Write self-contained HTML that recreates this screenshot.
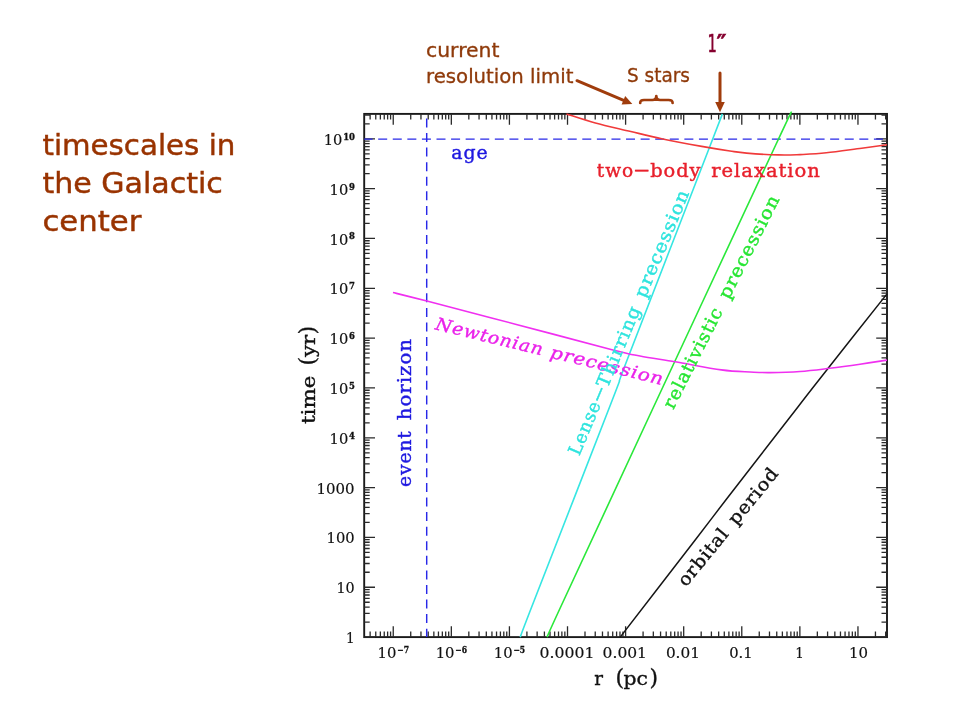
<!DOCTYPE html>
<html lang="en">
<head>
<meta charset="utf-8">
<title>timescales in the Galactic center</title>
<style>
html,body{margin:0;padding:0;background:#fff;}
body{width:960px;height:720px;overflow:hidden;position:relative;}
svg{position:absolute;left:0;top:0;display:block;}
.pl{font-family:"DejaVu Serif","Liberation Serif",serif;}
.cs{font-family:"DejaVu Sans","Liberation Sans",sans-serif;}
</style>
</head>
<body>
<svg width="960" height="720" viewBox="0 0 960 720">
<rect width="960" height="720" fill="#ffffff"/>
<g class="cs" fill="#993300" stroke="#993300" stroke-width="0.45" font-size="29px">
<text x="42.4" y="154.5" textLength="193" lengthAdjust="spacingAndGlyphs">timescales in</text>
<text x="42.4" y="193" textLength="180.5" lengthAdjust="spacingAndGlyphs">the Galactic</text>
<text x="42.4" y="231" textLength="99" lengthAdjust="spacingAndGlyphs">center</text>
</g>
<g class="cs" fill="#8f3a0a" stroke="#8f3a0a" stroke-width="0.3" font-size="19px">
<text x="426" y="57.2" textLength="73.5" lengthAdjust="spacingAndGlyphs">current</text>
<text x="426" y="83" textLength="147.5" lengthAdjust="spacingAndGlyphs">resolution limit</text>
<text x="627" y="82" textLength="63" lengthAdjust="spacingAndGlyphs">S stars</text>
</g>
<text class="cs" y="52" font-size="24.5px" fill="#85002f" stroke="#85002f" stroke-width="0.5"><tspan x="707.4" textLength="9.4" lengthAdjust="spacingAndGlyphs">1</tspan><tspan x="716.6" font-weight="bold" textLength="10" lengthAdjust="spacingAndGlyphs">″</tspan></text>
<g stroke="#a03c0c" fill="none" stroke-width="3" stroke-linecap="round">
<line x1="577" y1="80.7" x2="626" y2="101.3"/>
<line x1="720" y1="73" x2="720" y2="104"/>
</g>
<g fill="#a03c0c">
<polygon points="632.3,103.9 621.6,104.4 625.2,96"/>
<polygon points="720,112.3 715.2,102 724.8,102"/>
</g>
<path d="M640.2 103 C640.2 100.4 641.2 100 644 100 L652.4 100 C655 100 656.3 99 656.3 96 C656.3 99 657.6 100 660.2 100 L668.6 100 C671.4 100 672.6 100.4 672.6 103" fill="none" stroke="#a03c0c" stroke-width="2.7" stroke-linecap="round" stroke-linejoin="round"/>
<rect x="364.2" y="113.9" width="522.80" height="523.20" fill="none" stroke="#1a1a1a" stroke-width="1.9"/>
<path d="M370.13 637.10v-5.5M370.13 113.90v5.5M375.76 637.10v-5.5M375.76 113.90v5.5M380.36 637.10v-5.5M380.36 113.90v5.5M384.25 637.10v-5.5M384.25 113.90v5.5M387.62 637.10v-5.5M387.62 113.90v5.5M390.59 637.10v-5.5M390.59 113.90v5.5M393.24 637.10v-10.8M393.24 113.90v10.8M410.73 637.10v-5.5M410.73 113.90v5.5M420.96 637.10v-5.5M420.96 113.90v5.5M428.22 637.10v-5.5M428.22 113.90v5.5M433.85 637.10v-5.5M433.85 113.90v5.5M438.45 637.10v-5.5M438.45 113.90v5.5M442.34 637.10v-5.5M442.34 113.90v5.5M445.70 637.10v-5.5M445.70 113.90v5.5M448.68 637.10v-5.5M448.68 113.90v5.5M451.33 637.10v-10.8M451.33 113.90v10.8M468.82 637.10v-5.5M468.82 113.90v5.5M479.05 637.10v-5.5M479.05 113.90v5.5M486.31 637.10v-5.5M486.31 113.90v5.5M491.94 637.10v-5.5M491.94 113.90v5.5M496.54 637.10v-5.5M496.54 113.90v5.5M500.42 637.10v-5.5M500.42 113.90v5.5M503.79 637.10v-5.5M503.79 113.90v5.5M506.76 637.10v-5.5M506.76 113.90v5.5M509.42 637.10v-10.8M509.42 113.90v10.8M526.91 637.10v-5.5M526.91 113.90v5.5M537.14 637.10v-5.5M537.14 113.90v5.5M544.40 637.10v-5.5M544.40 113.90v5.5M550.02 637.10v-5.5M550.02 113.90v5.5M554.62 637.10v-5.5M554.62 113.90v5.5M558.51 637.10v-5.5M558.51 113.90v5.5M561.88 637.10v-5.5M561.88 113.90v5.5M564.85 637.10v-5.5M564.85 113.90v5.5M567.51 637.10v-10.8M567.51 113.90v10.8M585.00 637.10v-5.5M585.00 113.90v5.5M595.23 637.10v-5.5M595.23 113.90v5.5M602.48 637.10v-5.5M602.48 113.90v5.5M608.11 637.10v-5.5M608.11 113.90v5.5M612.71 637.10v-5.5M612.71 113.90v5.5M616.60 637.10v-5.5M616.60 113.90v5.5M619.97 637.10v-5.5M619.97 113.90v5.5M622.94 637.10v-5.5M622.94 113.90v5.5M625.60 637.10v-10.8M625.60 113.90v10.8M643.09 637.10v-5.5M643.09 113.90v5.5M653.32 637.10v-5.5M653.32 113.90v5.5M660.57 637.10v-5.5M660.57 113.90v5.5M666.20 637.10v-5.5M666.20 113.90v5.5M670.80 637.10v-5.5M670.80 113.90v5.5M674.69 637.10v-5.5M674.69 113.90v5.5M678.06 637.10v-5.5M678.06 113.90v5.5M681.03 637.10v-5.5M681.03 113.90v5.5M683.69 637.10v-10.8M683.69 113.90v10.8M701.18 637.10v-5.5M701.18 113.90v5.5M711.40 637.10v-5.5M711.40 113.90v5.5M718.66 637.10v-5.5M718.66 113.90v5.5M724.29 637.10v-5.5M724.29 113.90v5.5M728.89 637.10v-5.5M728.89 113.90v5.5M732.78 637.10v-5.5M732.78 113.90v5.5M736.15 637.10v-5.5M736.15 113.90v5.5M739.12 637.10v-5.5M739.12 113.90v5.5M741.78 637.10v-10.8M741.78 113.90v10.8M759.26 637.10v-5.5M759.26 113.90v5.5M769.49 637.10v-5.5M769.49 113.90v5.5M776.75 637.10v-5.5M776.75 113.90v5.5M782.38 637.10v-5.5M782.38 113.90v5.5M786.98 637.10v-5.5M786.98 113.90v5.5M790.87 637.10v-5.5M790.87 113.90v5.5M794.24 637.10v-5.5M794.24 113.90v5.5M797.21 637.10v-5.5M797.21 113.90v5.5M799.87 637.10v-10.8M799.87 113.90v10.8M817.35 637.10v-5.5M817.35 113.90v5.5M827.58 637.10v-5.5M827.58 113.90v5.5M834.84 637.10v-5.5M834.84 113.90v5.5M840.47 637.10v-5.5M840.47 113.90v5.5M845.07 637.10v-5.5M845.07 113.90v5.5M848.96 637.10v-5.5M848.96 113.90v5.5M852.33 637.10v-5.5M852.33 113.90v5.5M855.30 637.10v-5.5M855.30 113.90v5.5M857.96 637.10v-10.8M857.96 113.90v10.8M875.44 637.10v-5.5M875.44 113.90v5.5M885.67 637.10v-5.5M885.67 113.90v5.5M364.20 637.10h10.8M887.00 637.10h-10.8M364.20 622.10h5.5M887.00 622.10h-5.5M364.20 613.33h5.5M887.00 613.33h-5.5M364.20 607.10h5.5M887.00 607.10h-5.5M364.20 602.27h5.5M887.00 602.27h-5.5M364.20 598.33h5.5M887.00 598.33h-5.5M364.20 594.99h5.5M887.00 594.99h-5.5M364.20 592.10h5.5M887.00 592.10h-5.5M364.20 589.55h5.5M887.00 589.55h-5.5M364.20 587.27h10.8M887.00 587.27h-10.8M364.20 572.27h5.5M887.00 572.27h-5.5M364.20 563.50h5.5M887.00 563.50h-5.5M364.20 557.27h5.5M887.00 557.27h-5.5M364.20 552.44h5.5M887.00 552.44h-5.5M364.20 548.50h5.5M887.00 548.50h-5.5M364.20 545.16h5.5M887.00 545.16h-5.5M364.20 542.27h5.5M887.00 542.27h-5.5M364.20 539.72h5.5M887.00 539.72h-5.5M364.20 537.44h10.8M887.00 537.44h-10.8M364.20 522.44h5.5M887.00 522.44h-5.5M364.20 513.67h5.5M887.00 513.67h-5.5M364.20 507.44h5.5M887.00 507.44h-5.5M364.20 502.61h5.5M887.00 502.61h-5.5M364.20 498.67h5.5M887.00 498.67h-5.5M364.20 495.33h5.5M887.00 495.33h-5.5M364.20 492.44h5.5M887.00 492.44h-5.5M364.20 489.89h5.5M887.00 489.89h-5.5M364.20 487.61h10.8M887.00 487.61h-10.8M364.20 472.61h5.5M887.00 472.61h-5.5M364.20 463.84h5.5M887.00 463.84h-5.5M364.20 457.61h5.5M887.00 457.61h-5.5M364.20 452.79h5.5M887.00 452.79h-5.5M364.20 448.84h5.5M887.00 448.84h-5.5M364.20 445.50h5.5M887.00 445.50h-5.5M364.20 442.61h5.5M887.00 442.61h-5.5M364.20 440.07h5.5M887.00 440.07h-5.5M364.20 437.79h10.8M887.00 437.79h-10.8M364.20 422.79h5.5M887.00 422.79h-5.5M364.20 414.01h5.5M887.00 414.01h-5.5M364.20 407.79h5.5M887.00 407.79h-5.5M364.20 402.96h5.5M887.00 402.96h-5.5M364.20 399.01h5.5M887.00 399.01h-5.5M364.20 395.68h5.5M887.00 395.68h-5.5M364.20 392.79h5.5M887.00 392.79h-5.5M364.20 390.24h5.5M887.00 390.24h-5.5M364.20 387.96h10.8M887.00 387.96h-10.8M364.20 372.96h5.5M887.00 372.96h-5.5M364.20 364.18h5.5M887.00 364.18h-5.5M364.20 357.96h5.5M887.00 357.96h-5.5M364.20 353.13h5.5M887.00 353.13h-5.5M364.20 349.18h5.5M887.00 349.18h-5.5M364.20 345.85h5.5M887.00 345.85h-5.5M364.20 342.96h5.5M887.00 342.96h-5.5M364.20 340.41h5.5M887.00 340.41h-5.5M364.20 338.13h10.8M887.00 338.13h-10.8M364.20 323.13h5.5M887.00 323.13h-5.5M364.20 314.35h5.5M887.00 314.35h-5.5M364.20 308.13h5.5M887.00 308.13h-5.5M364.20 303.30h5.5M887.00 303.30h-5.5M364.20 299.35h5.5M887.00 299.35h-5.5M364.20 296.02h5.5M887.00 296.02h-5.5M364.20 293.13h5.5M887.00 293.13h-5.5M364.20 290.58h5.5M887.00 290.58h-5.5M364.20 288.30h10.8M887.00 288.30h-10.8M364.20 273.30h5.5M887.00 273.30h-5.5M364.20 264.53h5.5M887.00 264.53h-5.5M364.20 258.30h5.5M887.00 258.30h-5.5M364.20 253.47h5.5M887.00 253.47h-5.5M364.20 249.53h5.5M887.00 249.53h-5.5M364.20 246.19h5.5M887.00 246.19h-5.5M364.20 243.30h5.5M887.00 243.30h-5.5M364.20 240.75h5.5M887.00 240.75h-5.5M364.20 238.47h10.8M887.00 238.47h-10.8M364.20 223.47h5.5M887.00 223.47h-5.5M364.20 214.70h5.5M887.00 214.70h-5.5M364.20 208.47h5.5M887.00 208.47h-5.5M364.20 203.64h5.5M887.00 203.64h-5.5M364.20 199.70h5.5M887.00 199.70h-5.5M364.20 196.36h5.5M887.00 196.36h-5.5M364.20 193.47h5.5M887.00 193.47h-5.5M364.20 190.92h5.5M887.00 190.92h-5.5M364.20 188.64h10.8M887.00 188.64h-10.8M364.20 173.64h5.5M887.00 173.64h-5.5M364.20 164.87h5.5M887.00 164.87h-5.5M364.20 158.64h5.5M887.00 158.64h-5.5M364.20 153.81h5.5M887.00 153.81h-5.5M364.20 149.87h5.5M887.00 149.87h-5.5M364.20 146.53h5.5M887.00 146.53h-5.5M364.20 143.64h5.5M887.00 143.64h-5.5M364.20 141.09h5.5M887.00 141.09h-5.5M364.20 138.81h10.8M887.00 138.81h-10.8M364.20 123.81h5.5M887.00 123.81h-5.5M364.20 115.04h5.5M887.00 115.04h-5.5" fill="none" stroke="#2a2a2a" stroke-width="1.3"/>
<g stroke="#2828e8" stroke-width="1.45" stroke-dasharray="9 5.58" stroke-dashoffset="0.6" fill="none">
<line x1="364.2" y1="139.11" x2="887.0" y2="139.11"/>
<line x1="426.7" y1="637.1" x2="426.7" y2="113.9"/>
</g>
<g fill="none" stroke-width="1.6" stroke-linejoin="round">
<path d="M520.2 637.1C522.6 630.9 519.0 639.5 534.4 600.0C549.8 560.5 596.8 440.0 612.3 400.0C627.8 360.0 610.8 402.5 627.1 360.0C643.5 317.5 694.5 186.0 710.4 145.0C726.3 104.0 720.4 119.1 722.4 113.9" stroke="#36e6e2"/>
<path d="M547.0 637.1C549.8 630.9 547.1 636.2 563.9 600.0C580.6 563.8 612.2 495.8 647.5 420.0C682.8 344.2 751.9 196.0 775.7 145.0C799.6 94.0 788.1 119.1 790.6 113.9" stroke="#2ae83a"/>
<path d="M620.2 637.1C632.7 620.9 677.6 562.9 695.2 540.0C712.8 517.1 710.4 520.0 725.8 500.0C741.2 480.0 772.3 440.0 787.8 420.0C803.3 400.0 802.4 401.0 818.9 380.0C835.4 359.0 875.6 308.2 887.0 293.9" stroke="#151515" stroke-width="1.5"/>
<path d="M566.5 113.9C571.3 115.4 584.7 120.1 595.4 123.0C606.1 125.9 619.6 128.8 630.8 131.5C642.0 134.2 650.9 136.5 662.7 139.0C674.5 141.5 690.5 144.4 701.7 146.4C712.9 148.4 722.5 149.9 730.0 151.0C737.5 152.1 738.5 152.4 746.6 153.1C754.7 153.8 769.5 154.7 778.4 154.9C787.3 155.2 792.0 154.9 800.0 154.6C808.0 154.2 816.0 153.9 826.3 152.8C836.6 151.7 851.6 149.5 861.7 148.2C871.8 146.9 882.8 145.4 887.0 144.8" stroke="#f03a3a"/>
<path d="M393.0 292.5C398.6 293.9 406.5 295.8 426.9 301.1C447.3 306.4 484.4 316.1 515.4 324.2C546.4 332.3 592.1 344.6 612.9 349.9C633.7 355.2 629.6 354.0 640.0 356.0C650.4 358.0 661.7 359.5 675.2 361.8C688.8 364.1 708.8 368.2 721.3 369.9C733.8 371.6 741.9 371.6 750.0 372.0C758.1 372.4 761.7 372.7 770.0 372.6C778.3 372.5 790.1 372.2 800.0 371.5C809.9 370.8 819.6 369.5 829.6 368.3C839.6 367.1 850.4 365.6 860.0 364.2C869.6 362.8 882.5 360.8 887.0 360.1" stroke="#f030f0"/>
</g>
<g class="pl" fill="#111" stroke="#111" stroke-width="0.2" font-size="15.6px">
<text><tspan x="323.7" y="144.9" textLength="18.6" lengthAdjust="spacingAndGlyphs">10</tspan><tspan x="343.2" y="139.7" font-size="8.3px" font-weight="bold" stroke-width="0.3" textLength="11.8" lengthAdjust="spacingAndGlyphs">10</tspan></text>
<text><tspan x="329.6" y="194.7" textLength="18.6" lengthAdjust="spacingAndGlyphs">10</tspan><tspan x="349.1" y="189.5" font-size="8.3px" font-weight="bold" stroke-width="0.3" textLength="5.9" lengthAdjust="spacingAndGlyphs">9</tspan></text>
<text><tspan x="329.6" y="244.6" textLength="18.6" lengthAdjust="spacingAndGlyphs">10</tspan><tspan x="349.1" y="239.4" font-size="8.3px" font-weight="bold" stroke-width="0.3" textLength="5.9" lengthAdjust="spacingAndGlyphs">8</tspan></text>
<text><tspan x="329.6" y="294.4" textLength="18.6" lengthAdjust="spacingAndGlyphs">10</tspan><tspan x="349.1" y="289.2" font-size="8.3px" font-weight="bold" stroke-width="0.3" textLength="5.9" lengthAdjust="spacingAndGlyphs">7</tspan></text>
<text><tspan x="329.6" y="344.2" textLength="18.6" lengthAdjust="spacingAndGlyphs">10</tspan><tspan x="349.1" y="339.0" font-size="8.3px" font-weight="bold" stroke-width="0.3" textLength="5.9" lengthAdjust="spacingAndGlyphs">6</tspan></text>
<text><tspan x="329.6" y="394.1" textLength="18.6" lengthAdjust="spacingAndGlyphs">10</tspan><tspan x="349.1" y="388.9" font-size="8.3px" font-weight="bold" stroke-width="0.3" textLength="5.9" lengthAdjust="spacingAndGlyphs">5</tspan></text>
<text><tspan x="329.6" y="443.9" textLength="18.6" lengthAdjust="spacingAndGlyphs">10</tspan><tspan x="349.1" y="438.7" font-size="8.3px" font-weight="bold" stroke-width="0.3" textLength="5.9" lengthAdjust="spacingAndGlyphs">4</tspan></text>
<text x="316.6" y="493.6" textLength="38.0" lengthAdjust="spacingAndGlyphs">1000</text>
<text x="326.6" y="543.4" textLength="28.0" lengthAdjust="spacingAndGlyphs">100</text>
<text x="336.4" y="593.3" textLength="18.2" lengthAdjust="spacingAndGlyphs">10</text>
<text x="346.0" y="643.1" textLength="8.6" lengthAdjust="spacingAndGlyphs">1</text>
<text><tspan x="377.6" y="658.1" textLength="18.8" lengthAdjust="spacingAndGlyphs">10</tspan><tspan x="397.2" y="653.2" font-size="8.3px" font-weight="bold" stroke-width="0.3" textLength="11.8" lengthAdjust="spacingAndGlyphs">−7</tspan></text>
<text><tspan x="435.7" y="658.1" textLength="18.8" lengthAdjust="spacingAndGlyphs">10</tspan><tspan x="455.3" y="653.2" font-size="8.3px" font-weight="bold" stroke-width="0.3" textLength="11.8" lengthAdjust="spacingAndGlyphs">−6</tspan></text>
<text><tspan x="493.8" y="658.1" textLength="18.8" lengthAdjust="spacingAndGlyphs">10</tspan><tspan x="513.4" y="653.2" font-size="8.3px" font-weight="bold" stroke-width="0.3" textLength="11.8" lengthAdjust="spacingAndGlyphs">−5</tspan></text>
<text x="539.6" y="658.1" textLength="54.8" lengthAdjust="spacingAndGlyphs">0.0001</text>
<text x="602.6" y="658.1" textLength="44.4" lengthAdjust="spacingAndGlyphs">0.001</text>
<text x="665.9" y="658.1" textLength="34.0" lengthAdjust="spacingAndGlyphs">0.01</text>
<text x="729.2" y="658.1" textLength="23.4" lengthAdjust="spacingAndGlyphs">0.1</text>
<text x="795.2" y="658.1" textLength="8.6" lengthAdjust="spacingAndGlyphs">1</text>
<text x="849.1" y="658.1" textLength="19.0" lengthAdjust="spacingAndGlyphs">10</text>
</g>
<g class="pl" fill="#111" stroke="#111" stroke-width="0.35" font-size="18.3px">
<text y="685.4"><tspan x="594.2">r</tspan> <tspan x="615.4" font-size="22px">(</tspan><tspan x="623.6" textLength="24.4" lengthAdjust="spacingAndGlyphs">pc</tspan><tspan x="649.4" font-size="22px">)</tspan></text>
<text transform="translate(315.3 424.0) rotate(-90)" y="0"><tspan x="0" textLength="48.4" lengthAdjust="spacingAndGlyphs">time</tspan> <tspan x="58.6" font-size="22px">(</tspan><tspan x="67.0" textLength="22.2" lengthAdjust="spacingAndGlyphs">yr</tspan><tspan x="89.4" font-size="22px">)</tspan></text>
</g>
<g class="pl" font-size="18.0px" stroke-width="0.4" letter-spacing="0.9">
<text transform="translate(452 159.3)" fill="#1e18e0" stroke="#1e18e0"><tspan x="-0.7" textLength="37.3" lengthAdjust="spacingAndGlyphs">age</tspan></text>
<text transform="translate(410.9 486.8) rotate(-90)" fill="#1e18e0" stroke="#1e18e0"><tspan x="-0.2" textLength="56.8" lengthAdjust="spacingAndGlyphs">event</tspan> <tspan x="66.5" textLength="82.3" lengthAdjust="spacingAndGlyphs">horizon</tspan></text>
<text transform="translate(597.25 176.6)" fill="#e8202c" stroke="#e8202c"><tspan x="-0.4" textLength="37.3" lengthAdjust="spacingAndGlyphs">two</tspan><tspan x="36.0" dy="-0.7" letter-spacing="0" textLength="17.0" lengthAdjust="spacingAndGlyphs">-</tspan><tspan x="52.9" dy="0.7" textLength="51.4" lengthAdjust="spacingAndGlyphs">body</tspan> <tspan x="114.0" textLength="109.6" lengthAdjust="spacingAndGlyphs">relaxation</tspan></text>
<text transform="translate(434.9 329.3) rotate(13.8)" fill="#ea22ea" stroke="#ea22ea" font-style="italic" font-size="17.4px"><tspan x="-0.4" textLength="110.8" lengthAdjust="spacingAndGlyphs">Newtonian</tspan> <tspan x="117.8" textLength="116.6" lengthAdjust="spacingAndGlyphs">precession</tspan></text>
<text transform="translate(579.4 456.3) rotate(-67.3)" fill="#2ee4de" stroke="#2ee4de"><tspan x="-0.2" textLength="57.0" lengthAdjust="spacingAndGlyphs">Lense</tspan><tspan x="56.4" dy="-0.7" letter-spacing="0" textLength="17.0" lengthAdjust="spacingAndGlyphs">-</tspan><tspan x="73.1" dy="0.7" textLength="86.8" lengthAdjust="spacingAndGlyphs">Thirring</tspan> <tspan x="170.6" textLength="115.5" lengthAdjust="spacingAndGlyphs">precession</tspan></text>
<text transform="translate(673.3 410) rotate(-63.2)" fill="#26e632" stroke="#26e632"><tspan x="-0.2" textLength="111.3" lengthAdjust="spacingAndGlyphs">relativistic</tspan> <tspan x="123.1" textLength="114.0" lengthAdjust="spacingAndGlyphs">precession</tspan></text>
<text transform="translate(686.0 587.4) rotate(-50.6)" fill="#111" stroke="#111"><tspan x="-0.2" textLength="69.3" lengthAdjust="spacingAndGlyphs">orbital</tspan> <tspan x="79.3" textLength="68.3" lengthAdjust="spacingAndGlyphs">period</tspan></text>
</g>
</svg>
</body>
</html>
